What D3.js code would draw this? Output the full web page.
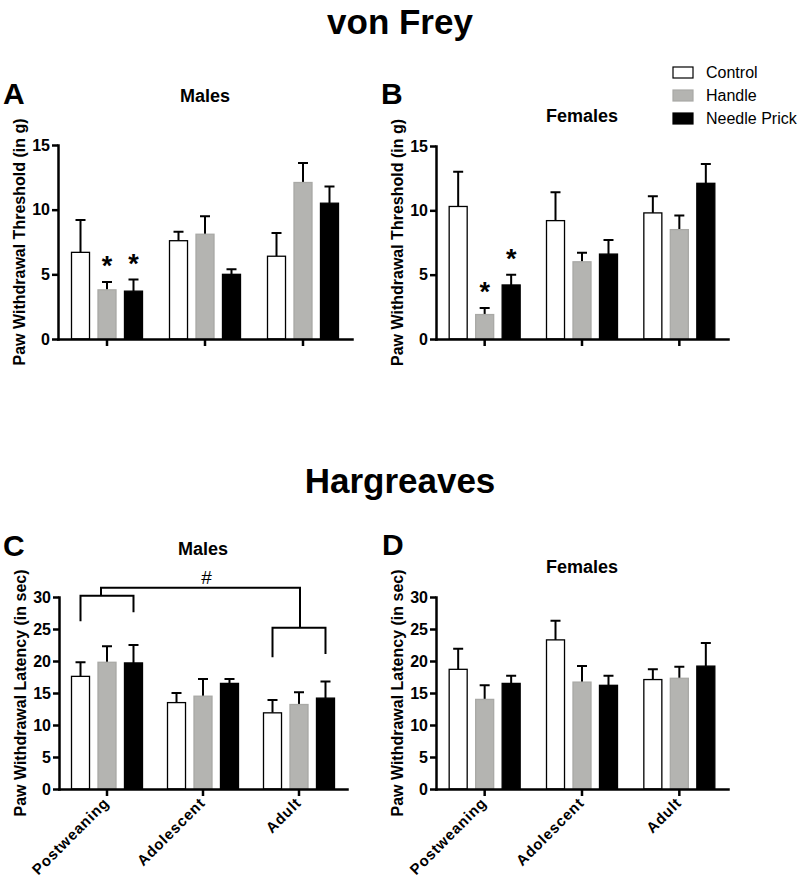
<!DOCTYPE html>
<html><head><meta charset="utf-8">
<script src="https://cdn.jsdelivr.net/npm/d3@7"></script>
<style>body{margin:0;background:#fff} svg{display:block}</style>
</head><body><svg id="chart" width="800" height="877"></svg>
<script>
const categories = ["Postweaning", "Adolescent", "Adult"];
const seriesNames = ["Control", "Handle", "Needle Prick"];
const seriesColors = ["#ffffff", "#b4b4b1", "#000000"];
const vonFreyTicks = [0, 5, 10, 15];
const hargreavesTicks = [0, 5, 10, 15, 20, 25, 30];

// rows = series (Control, Handle, Needle Prick), columns = categories
const vonFreyMalesMean   = [[6.7, 7.6, 6.4], [3.8, 8.1, 12.1], [3.7, 5.0, 10.5]];
const vonFreyMalesSEM    = [[2.5, 0.7, 1.8], [0.6, 1.4, 1.5], [0.9, 0.4, 1.3]];
const vonFreyFemalesMean = [[10.3, 9.2, 9.8], [1.9, 6.0, 8.5], [4.2, 6.6, 12.1]];
const vonFreyFemalesSEM  = [[2.7, 2.2, 1.3], [0.5, 0.7, 1.1], [0.8, 1.1, 1.5]];
const hargreavesMalesMean   = [[17.6, 13.5, 11.9], [19.8, 14.5, 13.2], [19.7, 16.5, 14.2]];
const hargreavesMalesSEM    = [[2.2, 1.5, 2.0], [2.5, 2.7, 1.9], [2.8, 0.7, 2.6]];
const hargreavesFemalesMean = [[18.7, 23.3, 17.1], [14.0, 16.7, 17.3], [16.5, 16.2, 19.2]];
const hargreavesFemalesSEM  = [[3.2, 3.0, 1.6], [2.2, 2.5, 1.8], [1.2, 1.5, 3.6]];

const vonFreyMalesStars   = [["Postweaning", "Handle"], ["Postweaning", "Needle Prick"]];
const vonFreyFemalesStars = [["Postweaning", "Handle"], ["Postweaning", "Needle Prick"]];
const hargreavesMalesBracket = ["Postweaning", "Adult", "#"];

const FONT = '"Liberation Sans", Arial, Helvetica, sans-serif';
const svg = d3.select("#chart").attr("font-family", FONT);

svg.append("text").attr("x", 400).attr("y", 34).attr("text-anchor", "middle")
  .attr("font-size", 35).attr("font-weight", "bold").text("von Frey");
svg.append("text").attr("x", 400).attr("y", 493).attr("text-anchor", "middle")
  .attr("font-size", 35).attr("font-weight", "bold").text("Hargreaves");

const panels = [
  {letter: "A", lx: 3, ly: 104, title: "Males", ty: 102, left: 58, right: 352, top: 145, bottom: 339,
   max: 15, ticks: vonFreyTicks, ylabel: "Paw Withdrawal Threshold (in g)",
   mean: vonFreyMalesMean, sem: vonFreyMalesSEM, stars: vonFreyMalesStars, cats: false},
  {letter: "B", lx: 381, ly: 104, title: "Females", ty: 122, left: 436, right: 728, top: 146, bottom: 339,
   max: 15, ticks: vonFreyTicks, ylabel: "Paw Withdrawal Threshold (in g)",
   mean: vonFreyFemalesMean, sem: vonFreyFemalesSEM, stars: vonFreyFemalesStars, cats: false},
  {letter: "C", lx: 3, ly: 556, title: "Males", ty: 555, left: 59, right: 347, top: 597, bottom: 789,
   max: 30, ticks: hargreavesTicks, ylabel: "Paw Withdrawal Latency (in sec)",
   mean: hargreavesMalesMean, sem: hargreavesMalesSEM, stars: [], cats: true, bracket: hargreavesMalesBracket},
  {letter: "D", lx: 382, ly: 555, title: "Females", ty: 573, left: 436, right: 728, top: 597, bottom: 789,
   max: 30, ticks: hargreavesTicks, ylabel: "Paw Withdrawal Latency (in sec)",
   mean: hargreavesFemalesMean, sem: hargreavesFemalesSEM, stars: [], cats: true}
];

panels.forEach(p => {
  const g = svg.append("g");
  const x0 = d3.scaleBand().domain(categories).range([p.left, p.right]);
  const x1 = d3.scaleBand().domain(seriesNames).range([-35.5, 35.5]).paddingInner(0.32);
  const y = d3.scaleLinear().domain([0, p.max]).range([p.bottom, p.top]);
  const gc = c => x0(c) + x0.bandwidth() / 2;
  const cx = (c, s) => gc(c) + x1(s) + x1.bandwidth() / 2;
  const bw = x1.bandwidth();

  const rows = [];
  seriesNames.forEach((s, i) => categories.forEach((c, j) =>
    rows.push({s, c, i, m: p.mean[i][j], e: p.sem[i][j]})));

  // error bars (upper only)
  g.append("g").selectAll("path").data(rows).join("path")
    .attr("d", d => `M${cx(d.c, d.s)},${y(d.m)}V${y(d.m + d.e)}M${cx(d.c, d.s) - 5},${y(d.m + d.e)}H${cx(d.c, d.s) + 5}`)
    .attr("stroke", "#000").attr("stroke-width", 2).attr("fill", "none");

  g.append("g").selectAll("rect").data(rows).join("rect")
    .attr("x", d => cx(d.c, d.s) - bw / 2)
    .attr("y", d => y(d.m))
    .attr("width", bw)
    .attr("height", d => y(0) - y(d.m))
    .attr("fill", d => seriesColors[d.i])
    .attr("stroke", d => d.i === 1 ? "#a9a9a6" : "#000")
    .attr("stroke-width", 1.3);

  // axes
  const ya = g.append("g").attr("transform", `translate(${p.left},0)`)
    .call(d3.axisLeft(y).tickValues(p.ticks).tickSize(6).tickSizeOuter(0).tickPadding(2).tickFormat(d3.format("d")))
    .attr("font-family", FONT).attr("font-size", 16).attr("font-weight", "bold");
  ya.select(".domain").attr("stroke-width", 2.5).attr("stroke-linecap", "square");
  ya.selectAll(".tick line").attr("stroke-width", 2.5);
  ya.selectAll(".tick text").attr("fill", "#000");

  const xa = g.append("g").attr("transform", `translate(0,${p.bottom})`)
    .call(d3.axisBottom(x0).tickSize(7).tickSizeOuter(0).tickFormat(p.cats ? (d => d) : () => ""))
    .attr("font-family", FONT).attr("font-size", 15).attr("font-weight", "bold");
  xa.select(".domain").attr("stroke-width", 2.5).attr("stroke-linecap", "square");
  xa.selectAll(".tick line").attr("stroke-width", 2.5);
  if (p.cats) {
    xa.selectAll(".tick text")
      .attr("x", 0).attr("y", 0).attr("dy", 0)
      .attr("transform", "translate(3,15) rotate(-45)")
      .attr("text-anchor", "end").attr("fill", "#000")
      .attr("letter-spacing", "0.8px");
  }

  // y label
  g.append("text")
    .attr("transform", `translate(${p.left - 33},${(p.top + p.bottom) / 2}) rotate(-90)`)
    .attr("text-anchor", "middle").attr("font-size", 16).attr("font-weight", "bold")
    .text(p.ylabel);

  // panel letter & title
  g.append("text").attr("x", p.lx).attr("y", p.ly).attr("font-size", 30).attr("font-weight", "bold").text(p.letter);
  g.append("text").attr("x", gc(categories[1])).attr("y", p.ty).attr("text-anchor", "middle")
    .attr("font-size", 18).attr("font-weight", "bold").text(p.title);

  // significance stars
  g.append("g").selectAll("text").data(p.stars).join("text")
    .attr("x", d => cx(d[0], d[1]))
    .attr("y", d => {
      const i = seriesNames.indexOf(d[1]), j = categories.indexOf(d[0]);
      return y(p.mean[i][j] + p.sem[i][j]) - 7;
    })
    .attr("text-anchor", "middle").attr("font-size", 27).attr("font-weight", "bold").text("*");

  // bracket
  if (p.bracket) {
    const [from, to, lab] = p.bracket;
    const a1 = cx(from, "Control"), a2 = cx(from, "Needle Prick");
    const b1 = cx(to, "Control"), b2 = cx(to, "Needle Prick");
    const ca = gc(from) - 6, cb = gc(to) + 1;
    const path = `M${a1},${y(26.2)}V${y(30.2)}H${a2}V${y(27.6)}` +
                 `M${ca},${y(30.2)}V${y(31.45)}H${cb}V${y(25.2)}` +
                 `M${b1},${y(20.6)}V${y(25.2)}H${b2}V${y(21.1)}`;
    g.append("path").attr("d", path).attr("fill", "none").attr("stroke", "#000").attr("stroke-width", 2);
    g.append("text").attr("x", (ca + cb) / 2 + 6).attr("y", y(32.0))
      .attr("text-anchor", "middle").attr("font-size", 19).text(lab);
  }
});

// legend
const legend = svg.append("g").attr("transform", "translate(673,67)");
seriesNames.forEach((s, i) => {
  const row = legend.append("g").attr("transform", `translate(0,${i * 23})`);
  row.append("rect").attr("width", 20).attr("height", 11)
    .attr("fill", seriesColors[i]).attr("stroke", i === 1 ? "#a9a9a6" : "#000").attr("stroke-width", 1.2);
  row.append("text").attr("x", 33).attr("y", 11).attr("font-size", 16).text(s);
});
</script>
</body></html>
